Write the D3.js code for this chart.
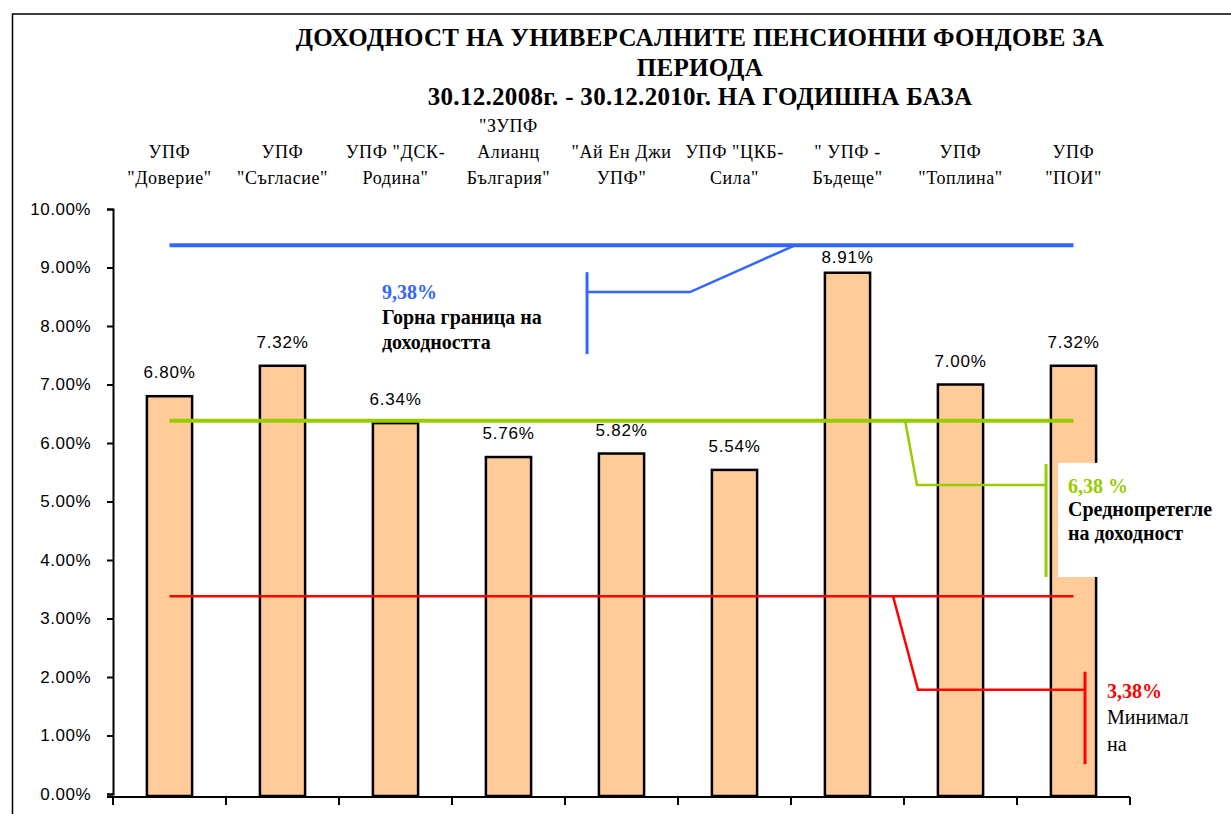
<!DOCTYPE html>
<html>
<head>
<meta charset="utf-8">
<script src="https://cdn.jsdelivr.net/npm/d3@7"></script>
<style>
  html, body { margin: 0; padding: 0; background: #fff; overflow: hidden; }
  svg { display: block; }
</style>
</head>
<body>
<div id="chart"></div>
<script>
const width = 1231;
const height = 814;

// fund names (top labels), one array entry per line
const categories = [
  ['УПФ', '"Доверие"'],
  ['УПФ', '"Съгласие"'],
  ['УПФ "ДСК-', 'Родина"'],
  ['"ЗУПФ', 'Алианц', 'България"'],
  ['"Ай Ен Джи', 'УПФ"'],
  ['УПФ "ЦКБ-', 'Сила"'],
  ['" УПФ -', 'Бъдеще"'],
  ['УПФ', '"Топлина"'],
  ['УПФ', '"ПОИ"']
];
const returns = [6.80, 7.32, 6.34, 5.76, 5.82, 5.54, 8.91, 7.00, 7.32];
const yTicks = [0, 1, 2, 3, 4, 5, 6, 7, 8, 9, 10];

const titleLines = [
  'ДОХОДНОСТ НА УНИВЕРСАЛНИТЕ ПЕНСИОННИ ФОНДОВЕ ЗА',
  'ПЕРИОДА',
  '30.12.2008г. - 30.12.2010г. НА ГОДИШНА БАЗА'
];

// reference levels
const upperLimit = 9.38;
const weightedAvg = 6.38;
const minimum = 3.38;

const serif = '"Liberation Serif", "Times New Roman", "DejaVu Serif", serif';
const sans = '"Liberation Sans", Arial, sans-serif';

const svg = d3.select('#chart')
  .append('svg')
  .attr('width', width)
  .attr('height', height);

// chart area border (runs off the picture on the right and bottom)
svg.append('rect')
  .attr('x', 12.5).attr('y', 14)
  .attr('width', 1300).attr('height', 900)
  .attr('fill', '#fff')
  .attr('stroke', '#000')
  .attr('stroke-width', 1.5);

const plot = { left: 113, right: 1130, top: 209, bottom: 794 };

const ids = categories.map((_, i) => i);
const x = d3.scaleBand()
  .domain(ids)
  .range([plot.left, plot.right])
  .paddingInner(0.6)
  .paddingOuter(0.3);

// continuous position measured in category slots, for the callouts
const xi = d3.scaleLinear().domain([0, categories.length]).range([plot.left, plot.right]);

const y = d3.scaleLinear().domain([0, 10]).range([plot.bottom, plot.top]);

// title
svg.append('g')
  .selectAll('text')
  .data(titleLines)
  .join('text')
  .attr('x', 700)
  .attr('y', (d, i) => 46 + i * 29.5)
  .attr('text-anchor', 'middle')
  .style('font-family', serif)
  .style('font-weight', 'bold')
  .style('font-size', '25px')
  .style('letter-spacing', '0.3px')
  .attr('fill', '#000')
  .text(d => d);

// category labels at the top, bottom-aligned
const catG = svg.append('g')
  .style('font-family', serif)
  .style('font-size', '18px')
  .style('letter-spacing', '0.6px')
  .attr('fill', '#000')
  .attr('text-anchor', 'middle');

categories.forEach((lines, i) => {
  const cx = x(i) + x.bandwidth() / 2;
  lines.forEach((ln, j) => {
    catG.append('text')
      .attr('x', cx)
      .attr('y', 184 - (lines.length - 1 - j) * 26)
      .text(ln);
  });
});

// y axis
const yAxis = d3.axisLeft(y)
  .tickValues(yTicks)
  .tickSize(6)
  .tickFormat(d => d.toFixed(2) + '%');

const yg = svg.append('g')
  .attr('transform', `translate(${plot.left},0)`)
  .call(yAxis);
yg.select('.domain').attr('stroke-width', 2);
yg.selectAll('.tick line').attr('stroke-width', 2);
yg.selectAll('.tick text')
  .attr('x', -22)
  .style('font-family', sans)
  .style('font-size', '17px')
  .style('letter-spacing', '0.5px')
  .attr('fill', '#000');

// x axis (ticks between categories, no labels)
const xg = svg.append('g')
  .attr('transform', `translate(0,${plot.bottom + 3})`);
xg.append('line')
  .attr('x1', plot.left - 6).attr('x2', plot.right)
  .attr('y1', 0).attr('y2', 0)
  .attr('stroke', '#000').attr('stroke-width', 2);
xg.selectAll('line.tk')
  .data(d3.range(categories.length + 1))
  .join('line')
  .attr('class', 'tk')
  .attr('x1', d => xi(d)).attr('x2', d => xi(d))
  .attr('y1', 0).attr('y2', 8)
  .attr('stroke', '#000').attr('stroke-width', 2);

// bars
svg.append('g')
  .selectAll('rect')
  .data(returns)
  .join('rect')
  .attr('x', (d, i) => x(i))
  .attr('y', d => y(d))
  .attr('width', x.bandwidth())
  .attr('height', d => plot.bottom + 2 - y(d))
  .attr('fill', '#FFCC99')
  .attr('stroke', '#000')
  .attr('stroke-width', 2.5);

// value labels (kept below the upper-limit line, as in the original)
svg.append('g')
  .selectAll('text')
  .data(returns)
  .join('text')
  .attr('x', (d, i) => x(i) + x.bandwidth() / 2)
  .attr('y', d => Math.max(y(d) - 18, y(upperLimit) + 18))
  .attr('text-anchor', 'middle')
  .style('font-family', sans)
  .style('font-size', '17px')
  .style('letter-spacing', '0.8px')
  .attr('fill', '#000')
  .text(d => d.toFixed(2) + '%');

// horizontal reference lines from first to last bar centre
const first = x(0) + x.bandwidth() / 2;
const last = x(categories.length - 1) + x.bandwidth() / 2;
const refLines = [
  { v: upperLimit, color: '#3366FF', w: 4 },
  { v: weightedAvg, color: '#99CC00', w: 4 },
  { v: minimum, color: '#FF0000', w: 2.5 }
];
svg.append('g')
  .selectAll('line')
  .data(refLines)
  .join('line')
  .attr('x1', first).attr('x2', last)
  .attr('y1', d => y(d.v)).attr('y2', d => y(d.v))
  .attr('stroke', d => d.color)
  .attr('stroke-width', d => d.w);

// callouts: leader path, bracket bar and text, in (slot, percent) units
const callouts = [
  {
    color: '#3366FF',
    leader: [[6.035, upperLimit], [5.106, 8.58], [4.195, 8.58]],
    bar: [4.195, 8.92, 7.52],
    box: null,
    tx: 2.38,
    lines: [
      { t: '9,38%', v: 8.46, c: '#3366FF', b: true },
      { t: 'Горна граница на', v: 8.03, c: '#000', b: true },
      { t: 'доходността', v: 7.61, c: '#000', b: true }
    ]
  },
  {
    color: '#99CC00',
    leader: [[7.01, weightedAvg], [7.115, 5.28], [8.257, 5.28]],
    bar: [8.257, 5.64, 3.71],
    box: [8.363, 5.66, 3.71],
    tx: 8.451,
    lines: [
      { t: '6,38 %', v: 5.15, c: '#99CC00', b: true },
      { t: 'Среднопретегле', v: 4.75, c: '#000', b: true },
      { t: 'на доходност', v: 4.34, c: '#000', b: true }
    ]
  },
  {
    color: '#FF0000',
    leader: [[6.903, minimum], [7.124, 1.78], [8.602, 1.78]],
    bar: [8.602, 2.09, 0.51],
    box: null,
    tx: 8.796,
    lines: [
      { t: '3,38%', v: 1.64, c: '#FF0000', b: true },
      { t: 'Минимал', v: 1.20, c: '#000', b: false },
      { t: 'на', v: 0.74, c: '#000', b: false }
    ]
  }
];

const line = d3.line().x(d => xi(d[0])).y(d => y(d[1]));

callouts.forEach(c => {
  const g = svg.append('g');
  if (c.box) {
    g.append('rect')
      .attr('x', xi(c.box[0]))
      .attr('y', y(c.box[1]))
      .attr('width', 200)
      .attr('height', y(c.box[2]) - y(c.box[1]))
      .attr('fill', '#fff');
  }
  g.append('path')
    .attr('d', line(c.leader))
    .attr('fill', 'none')
    .attr('stroke', c.color)
    .attr('stroke-width', 2.5);
  g.append('line')
    .attr('x1', xi(c.bar[0])).attr('x2', xi(c.bar[0]))
    .attr('y1', y(c.bar[1])).attr('y2', y(c.bar[2]))
    .attr('stroke', c.color)
    .attr('stroke-width', 3);
  g.selectAll('text')
    .data(c.lines)
    .join('text')
    .attr('x', xi(c.tx))
    .attr('y', d => y(d.v))
    .style('font-family', serif)
    .style('font-size', '20px')
    .style('font-weight', d => d.b ? 'bold' : 'normal')
    .attr('fill', d => d.c)
    .text(d => d.t);
});
</script>
</body>
</html>
